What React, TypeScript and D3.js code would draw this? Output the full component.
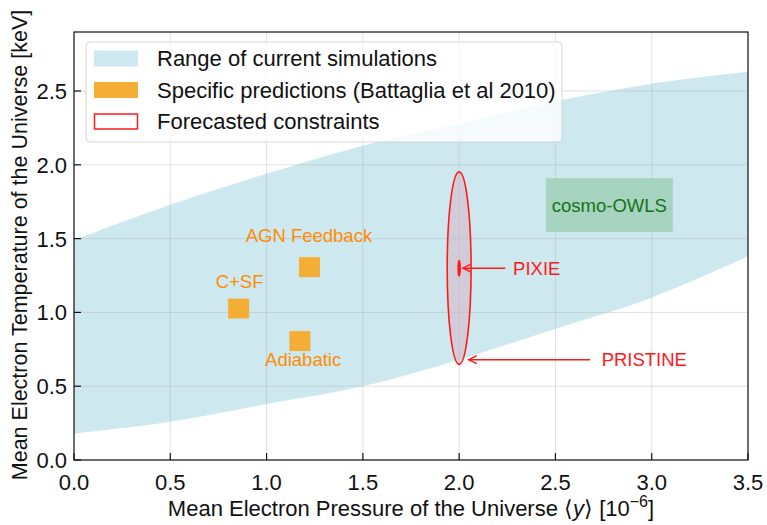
import React from "react";
import * as d3 from "d3";

// ---- data ----
const bandX = [0, 0.5, 1.0, 1.5, 2.0, 2.5, 3.0, 3.5];
const bandUpper = [1.49, 1.73, 1.94, 2.13, 2.28, 2.43, 2.55, 2.63];
const bandLower = [0.18, 0.26, 0.38, 0.5, 0.68, 0.89, 1.1, 1.38];

const predNames = ["C+SF", "AGN Feedback", "Adiabatic"];
const predX = [0.855, 1.223, 1.173];
const predY = [1.026, 1.307, 0.806];
const predLabelX = [0.86, 1.22, 1.19];
const predLabelY = [1.165, 1.48, 0.635];

const owlsX = [2.45, 3.11];
const owlsY = [1.545, 1.91];

const forecastNames = ["PRISTINE", "PIXIE"];
const forecastCenter = [2.0, 1.3];
const forecastHalfX = [0.062, 0.005];
const forecastHalfY = [0.652, 0.052];
const arrowTailX = [2.68, 2.24];
const arrowHeadX = [2.05, 2.02];
const arrowY = [0.68, 1.3];
const arrowTextX = [2.74, 2.28];

const xTicks = [0, 0.5, 1.0, 1.5, 2.0, 2.5, 3.0, 3.5];
const yTicks = [0, 0.5, 1.0, 1.5, 2.0, 2.5];

const legendLabels = [
  "Range of current simulations",
  "Specific predictions (Battaglia et al 2010)",
  "Forecasted constraints",
];

const FONT = "'Liberation Sans', Arial, Helvetica, sans-serif";

export default function App() {
  const W = 767, H = 525;
  const L = 74, R = 748, T = 32, B = 460;
  const x = d3.scaleLinear().domain([0, 3.5]).range([L, R]);
  const y = d3.scaleLinear().domain([0, 2.9]).range([B, T]);

  const bandData = bandX.map((v, i) => ({ x: v, u: bandUpper[i], l: bandLower[i] }));
  const area = d3
    .area<any>()
    .x((d) => x(d.x))
    .y0((d) => y(d.l))
    .y1((d) => y(d.u))
    .curve(d3.curveCatmullRom.alpha(0.5));

  const red = "#ff1a1a";
  const bandColor = "lightblue";
  const orange = "#f5ae35";
  const orangeText = "#ff8c00";

  return (
    <svg width={W} height={H} style={{ position: "absolute", left: 0, top: 0 }} fontFamily={FONT}>
      <defs>
        <clipPath id="plot">
          <rect x={L} y={T} width={R - L} height={B - T} />
        </clipPath>
      </defs>
      <rect x={0} y={0} width={W} height={H} fill="white" />
      <g clipPath="url(#plot)">
        <path d={area(bandData) || ""} fill={bandColor} fillOpacity={0.6} />
        {xTicks.map((t) => (
          <line key={"gx" + t} x1={x(t)} x2={x(t)} y1={T} y2={B} stroke="#b0b0b0" strokeOpacity={0.38} strokeWidth={1} />
        ))}
        {yTicks.map((t) => (
          <line key={"gy" + t} x1={L} x2={R} y1={y(t)} y2={y(t)} stroke="#b0b0b0" strokeOpacity={0.38} strokeWidth={1} />
        ))}
        {/* cosmo-OWLS */}
        <rect
          x={x(owlsX[0])}
          y={y(owlsY[1])}
          width={x(owlsX[1]) - x(owlsX[0])}
          height={y(owlsY[0]) - y(owlsY[1])}
          fill="#a6d4c0"
        />
        <text x={(x(owlsX[0]) + x(owlsX[1])) / 2} y={(y(owlsY[0]) + y(owlsY[1])) / 2 + 6.5} fontSize={18.5} fill="#137313" textAnchor="middle">
          cosmo-OWLS
        </text>
        {/* predictions */}
        {predNames.map((n, i) => (
          <g key={n}>
            <rect x={x(predX[i]) - 10.5} y={y(predY[i]) - 10} width={21} height={20} fill={orange} />
            <text x={x(predLabelX[i])} y={y(predLabelY[i])} fontSize={18.5} fill={orangeText} textAnchor="middle">
              {n}
            </text>
          </g>
        ))}
        {/* forecasts */}
        {forecastNames.map((n, i) => {
          const cx = x(forecastCenter[0]);
          const cy = y(forecastCenter[1]);
          const rx = x(forecastHalfX[i]) - x(0);
          const ry = y(0) - y(forecastHalfY[i]);
          return (
            <g key={n}>
              {i === 0 ? (
                <ellipse cx={cx} cy={cy} rx={rx} ry={ry} fill="rgb(212,176,192)" fillOpacity={0.5} stroke={red} strokeWidth={1.6} />
              ) : (
                <ellipse cx={cx} cy={cy} rx={rx} ry={ry} fill={red} stroke={red} strokeWidth={1.6} />
              )}
            </g>
          );
        })}
      </g>
      {/* arrows and labels (unclipped) */}
      {forecastNames.map((n, i) => {
        const hx = x(arrowHeadX[i]);
        const tx = x(arrowTailX[i]);
        const ay = y(arrowY[i]);
        return (
          <g key={"a" + n}>
            <line x1={tx} x2={hx} y1={ay} y2={ay} stroke={red} strokeWidth={1.5} />
            <path d={`M${hx + 8},${ay - 4} L${hx},${ay} L${hx + 8},${ay + 4}`} fill="none" stroke={red} strokeWidth={1.5} />
            <text x={x(arrowTextX[i])} y={ay + 6.5} fontSize={18.5} fill={red}>
              {n}
            </text>
          </g>
        );
      })}
      {/* legend */}
      <g>
        <rect x={86} y={42} width={476} height={100} rx={4} fill="white" fillOpacity={0.8} stroke="#cccccc" strokeOpacity={0.8} />
        {legendLabels.map((lab, i) => {
          const cy = 58.5 + i * 31.5;
          return (
            <g key={lab}>
              {i === 0 && <rect x={94} y={cy - 8} width={44} height={16} fill={bandColor} fillOpacity={0.6} />}
              {i === 1 && <rect x={94} y={cy - 8} width={44} height={16} fill={orange} />}
              {i === 2 && <rect x={94.5} y={cy - 7.5} width={43} height={15} fill="white" stroke={red} strokeWidth={1.5} />}
              <text x={157} y={cy + 7.8} fontSize={22} fill="#111">
                {lab}
              </text>
            </g>
          );
        })}
      </g>
      {/* axes frame */}
      <rect x={L} y={T} width={R - L} height={B - T} fill="none" stroke="#111" strokeWidth={1.2} />
      {xTicks.map((t) => (
        <g key={"xt" + t}>
          <line x1={x(t)} x2={x(t)} y1={B} y2={B - 7} stroke="#111" strokeWidth={1.2} />
          <text x={x(t)} y={490} fontSize={22} textAnchor="middle" fill="#111">
            {d3.format(".1f")(t)}
          </text>
        </g>
      ))}
      {yTicks.map((t) => (
        <g key={"yt" + t}>
          <line x1={L} x2={L + 7} y1={y(t)} y2={y(t)} stroke="#111" strokeWidth={1.2} />
          <text x={67} y={y(t) + 8} fontSize={22} textAnchor="end" fill="#111">
            {d3.format(".1f")(t)}
          </text>
        </g>
      ))}
      {/* axis labels */}
      <text x={(L + R) / 2} y={516} fontSize={22} textAnchor="middle" fill="#111">
        Mean Electron Pressure of the Universe ⟨<tspan fontStyle="italic">y</tspan>⟩ [10
        <tspan dy={-9} fontSize={16}>−6</tspan>
        <tspan dy={9}>]</tspan>
      </text>
      <text transform={`translate(27,${(T + B) / 2 - 1}) rotate(-90)`} fontSize={21.5} textAnchor="middle" fill="#111">
        Mean Electron Temperature of the Universe [keV]
      </text>
    </svg>
  );
}
